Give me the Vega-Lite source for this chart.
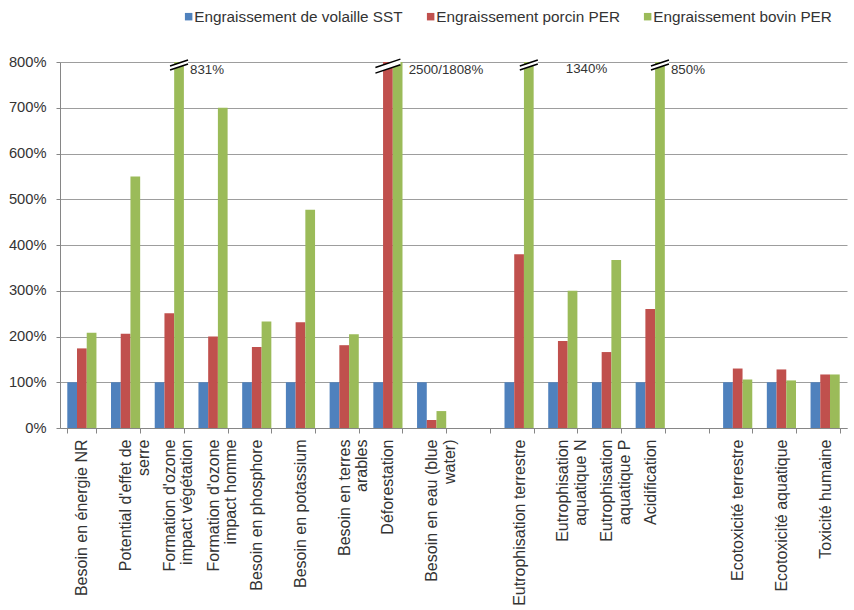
{
  "$schema": "https://vega.github.io/schema/vega-lite/v6.json",
  "width": 787,
  "height": 366,
  "autosize": "none",
  "padding": {"left": 60, "top": 62, "right": 7, "bottom": 182},
  "config": {
    "font": "Liberation Sans",
    "view": {"stroke": null},
    "axis": {
      "labelFont": "Liberation Sans",
      "labelColor": "#333333",
      "domainColor": "#868686",
      "tickColor": "#868686",
      "gridColor": "#9d9d9d"
    }
  },
  "datasets": {
    "impacts": [
      {"category": "Besoin en énergie NR", "series": "Engraissement de volaille SST", "value": 100},
      {"category": "Besoin en énergie NR", "series": "Engraissement porcin PER", "value": 174},
      {"category": "Besoin en énergie NR", "series": "Engraissement bovin PER", "value": 208},
      {"category": "Potential d'effet de\nserre", "series": "Engraissement de volaille SST", "value": 100},
      {"category": "Potential d'effet de\nserre", "series": "Engraissement porcin PER", "value": 206},
      {"category": "Potential d'effet de\nserre", "series": "Engraissement bovin PER", "value": 550},
      {"category": "Formation d'ozone\nimpact végétation", "series": "Engraissement de volaille SST", "value": 100},
      {"category": "Formation d'ozone\nimpact végétation", "series": "Engraissement porcin PER", "value": 251},
      {"category": "Formation d'ozone\nimpact végétation", "series": "Engraissement bovin PER", "value": 831},
      {"category": "Formation d'ozone\nimpact homme", "series": "Engraissement de volaille SST", "value": 100},
      {"category": "Formation d'ozone\nimpact homme", "series": "Engraissement porcin PER", "value": 200},
      {"category": "Formation d'ozone\nimpact homme", "series": "Engraissement bovin PER", "value": 700},
      {"category": "Besoin en phosphore", "series": "Engraissement de volaille SST", "value": 100},
      {"category": "Besoin en phosphore", "series": "Engraissement porcin PER", "value": 177},
      {"category": "Besoin en phosphore", "series": "Engraissement bovin PER", "value": 233},
      {"category": "Besoin en potassium", "series": "Engraissement de volaille SST", "value": 100},
      {"category": "Besoin en potassium", "series": "Engraissement porcin PER", "value": 231},
      {"category": "Besoin en potassium", "series": "Engraissement bovin PER", "value": 477},
      {"category": "Besoin en terres\narables", "series": "Engraissement de volaille SST", "value": 100},
      {"category": "Besoin en terres\narables", "series": "Engraissement porcin PER", "value": 181},
      {"category": "Besoin en terres\narables", "series": "Engraissement bovin PER", "value": 205},
      {"category": "Déforestation", "series": "Engraissement de volaille SST", "value": 100},
      {"category": "Déforestation", "series": "Engraissement porcin PER", "value": 2500},
      {"category": "Déforestation", "series": "Engraissement bovin PER", "value": 1808},
      {"category": "Besoin en eau (blue\nwater)", "series": "Engraissement de volaille SST", "value": 100},
      {"category": "Besoin en eau (blue\nwater)", "series": "Engraissement porcin PER", "value": 17.5},
      {"category": "Besoin en eau (blue\nwater)", "series": "Engraissement bovin PER", "value": 37},
      {"category": "Eutrophisation terrestre", "series": "Engraissement de volaille SST", "value": 100},
      {"category": "Eutrophisation terrestre", "series": "Engraissement porcin PER", "value": 380},
      {"category": "Eutrophisation terrestre", "series": "Engraissement bovin PER", "value": 1340},
      {"category": "Eutrophisation\naquatique N", "series": "Engraissement de volaille SST", "value": 100},
      {"category": "Eutrophisation\naquatique N", "series": "Engraissement porcin PER", "value": 190},
      {"category": "Eutrophisation\naquatique N", "series": "Engraissement bovin PER", "value": 300},
      {"category": "Eutrophisation\naquatique P", "series": "Engraissement de volaille SST", "value": 100},
      {"category": "Eutrophisation\naquatique P", "series": "Engraissement porcin PER", "value": 166},
      {"category": "Eutrophisation\naquatique P", "series": "Engraissement bovin PER", "value": 367},
      {"category": "Acidification", "series": "Engraissement de volaille SST", "value": 100},
      {"category": "Acidification", "series": "Engraissement porcin PER", "value": 260},
      {"category": "Acidification", "series": "Engraissement bovin PER", "value": 850},
      {"category": "Ecotoxicité terrestre", "series": "Engraissement de volaille SST", "value": 100},
      {"category": "Ecotoxicité terrestre", "series": "Engraissement porcin PER", "value": 130},
      {"category": "Ecotoxicité terrestre", "series": "Engraissement bovin PER", "value": 106},
      {"category": "Ecotoxicité aquatique", "series": "Engraissement de volaille SST", "value": 100},
      {"category": "Ecotoxicité aquatique", "series": "Engraissement porcin PER", "value": 128},
      {"category": "Ecotoxicité aquatique", "series": "Engraissement bovin PER", "value": 104},
      {"category": "Toxicité humaine", "series": "Engraissement de volaille SST", "value": 100},
      {"category": "Toxicité humaine", "series": "Engraissement porcin PER", "value": 117},
      {"category": "Toxicité humaine", "series": "Engraissement bovin PER", "value": 117}
    ],
    "notes": [
      {"category": "Formation d'ozone\nimpact végétation", "label": "831%", "place": "beside"},
      {"category": "Déforestation", "label": "2500/1808%", "place": "beside"},
      {"category": "Eutrophisation terrestre", "label": "1340%", "place": "far"},
      {"category": "Acidification", "label": "850%", "place": "beside"}
    ]
  },
  "encoding": {
    "x": {
      "field": "category",
      "type": "nominal",
      "title": null,
      "scale": {
        "domain": [
          "Besoin en énergie NR",
          "Potential d'effet de\nserre",
          "Formation d'ozone\nimpact végétation",
          "Formation d'ozone\nimpact homme",
          "Besoin en phosphore",
          "Besoin en potassium",
          "Besoin en terres\narables",
          "Déforestation",
          "Besoin en eau (blue\nwater)",
          " ",
          "Eutrophisation terrestre",
          "Eutrophisation\naquatique N",
          "Eutrophisation\naquatique P",
          "Acidification",
          "  ",
          "Ecotoxicité terrestre",
          "Ecotoxicité aquatique",
          "Toxicité humaine"
        ],
        "paddingInner": 0.333,
        "paddingOuter": 0.1667
      },
      "axis": {
        "labelAngle": -90,
        "labelAlign": "right",
        "labelBaseline": "middle",
        "labelFontSize": 16,
        "labelLineHeight": 17.5,
        "labelPadding": 6,
        "labelLimit": 0,
        "labelOverlap": false,
        "tickBand": "extent",
        "tickSize": 5,
        "grid": false,
        "labelExpr": "length(split(datum.value, '\\n')) > 1 ? [split(datum.value, '\\n')[0], pad(split(datum.value, '\\n')[1], 2 * length(split(datum.value, '\\n')[0]) - length(split(datum.value, '\\n')[1]) - 2, '\u00a0', 'center')] : datum.value"
      }
    }
  },
  "layer": [
    {
      "data": {"name": "impacts"},
      "mark": {"type": "bar"},
      "encoding": {
        "xOffset": {
          "field": "series",
          "scale": {"domain": ["Engraissement de volaille SST", "Engraissement porcin PER", "Engraissement bovin PER"], "paddingInner": 0, "paddingOuter": 0}
        },
        "y": {
          "field": "value",
          "type": "quantitative",
          "title": null,
          "scale": {"domain": [0, 800], "clamp": true, "nice": false},
          "axis": {
            "values": [0, 100, 200, 300, 400, 500, 600, 700, 800],
            "labelExpr": "datum.value + '%'",
            "labelFontSize": 14.7,
            "labelPadding": 10,
            "tickSize": 4,
            "grid": true
          }
        },
        "color": {
          "field": "series",
          "type": "nominal",
          "scale": {
            "domain": ["Engraissement de volaille SST", "Engraissement porcin PER", "Engraissement bovin PER"],
            "range": ["#4f81bd", "#c0504d", "#9bbb59"]
          },
          "legend": {
            "title": null,
            "orient": "none",
            "direction": "horizontal",
            "legendX": 121,
            "legendY": -53,
            "padding": 0,
            "symbolType": "square",
            "symbolSize": 56,
            "symbolStrokeWidth": 0,
            "labelFont": "Liberation Sans",
            "labelFontSize": 15.3,
            "labelColor": "#333333",
            "labelOffset": -2,
            "labelLimit": 0,
            "columnPadding": 20
          }
        }
      }
    },
    {
      "data": {"name": "impacts"},
      "transform": [{"filter": "datum.value > 800 && datum.category != 'Déforestation'"}],
      "mark": {"type": "point", "shape": "M-1,0.44L1,-0.23L1,0.22L-1,0.89Z", "size": 324, "filled": true, "fill": "white", "strokeWidth": 0, "opacity": 1},
      "encoding": {
        "xOffset": {"field": "series"},
        "y": {"field": "value", "type": "quantitative"}
      }
    },
    {
      "data": {"name": "impacts"},
      "transform": [{"filter": "datum.value > 800 && datum.category != 'Déforestation'"}],
      "mark": {"type": "point", "shape": "M-1,0.44L1,-0.23M-1,0.89L1,0.22", "size": 324, "filled": false, "stroke": "black", "strokeWidth": 1.5, "opacity": 1},
      "encoding": {
        "xOffset": {"field": "series"},
        "y": {"field": "value", "type": "quantitative"}
      }
    },
    {
      "data": {"name": "impacts"},
      "transform": [{"filter": "datum.category == 'Déforestation' && datum.series == 'Engraissement porcin PER'"}],
      "mark": {"type": "point", "shape": "M-1,0.44L1,-0.23L1,0.22L-1,0.89Z", "size": 625, "dx": 5, "filled": true, "fill": "white", "strokeWidth": 0, "opacity": 1},
      "encoding": {
        "y": {"field": "value", "type": "quantitative"}
      }
    },
    {
      "data": {"name": "impacts"},
      "transform": [{"filter": "datum.category == 'Déforestation' && datum.series == 'Engraissement porcin PER'"}],
      "mark": {"type": "point", "shape": "M-1,0.44L1,-0.23M-1,0.89L1,0.22", "size": 625, "dx": 5, "filled": false, "stroke": "black", "strokeWidth": 1.5, "opacity": 1},
      "encoding": {
        "y": {"field": "value", "type": "quantitative"}
      }
    },
    {
      "data": {"name": "notes"},
      "transform": [{"filter": "datum.place == 'beside'"}],
      "mark": {"type": "text", "align": "left", "baseline": "middle", "dx": 11, "dy": 8, "fontSize": 13.3, "font": "Liberation Sans", "color": "#333333"},
      "encoding": {
        "xOffset": {"datum": "Engraissement bovin PER"},
        "y": {"datum": 800},
        "text": {"field": "label"}
      }
    },
    {
      "data": {"name": "notes"},
      "transform": [{"filter": "datum.place == 'far'"}],
      "mark": {"type": "text", "align": "left", "baseline": "middle", "dx": 37, "dy": 7, "fontSize": 13.3, "font": "Liberation Sans", "color": "#333333"},
      "encoding": {
        "xOffset": {"datum": "Engraissement bovin PER"},
        "y": {"datum": 800},
        "text": {"field": "label"}
      }
    }
  ]
}
